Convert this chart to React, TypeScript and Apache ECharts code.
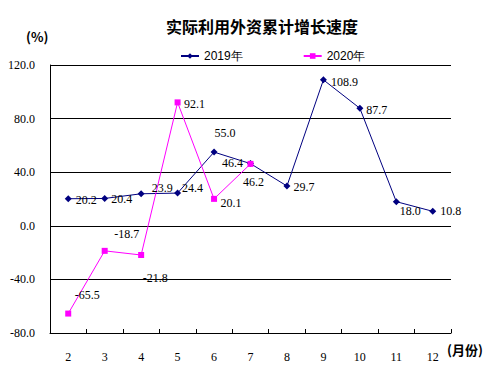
import React, { useEffect, useRef } from "react";
import * as echarts from "echarts";

const months = ["2", "3", "4", "5", "6", "7", "8", "9", "10", "11", "12"];
const values2019 = [20.2, 20.4, 23.9, 24.4, 55.0, 46.4, 29.7, 108.9, 87.7, 18.0, 10.8];
const values2020: (number | null)[] = [-65.5, -18.7, -21.8, 92.1, 20.1, 46.2, null, null, null, null, null];
const seriesNames = ["2019年", "2020年"];

// label offsets (pixels) relative to each point
const offsets2019 = [[18, 1], [17, 1], [21, -6], [15, -5], [11, -19], [-18, -1], [17, 1], [21, 2], [17, 2], [14, 9], [18, 0]];
const offsets2020 = [[19, -19], [22, -17], [14, 23], [17, 2], [17, 4], [3, 18]];

const labelFont = "Liberation Serif";

function buildData(vals: (number | null)[], offs: number[][]) {
  return vals.map((v, i) =>
    v === null
      ? null
      : {
          value: v,
          label: {
            show: true,
            position: "inside",
            offset: offs[i] || [0, 0],
            formatter: (p: any) => Number(p.value).toFixed(1),
            color: "#000",
            fontFamily: labelFont,
            fontSize: 12,
          },
        }
  );
}

export default function App() {
  const ref = useRef<HTMLDivElement>(null);
  useEffect(() => {
    if (!ref.current) return;
    const chart = echarts.init(ref.current, null, { renderer: "svg" });
    chart.setOption({
      animation: false,
      backgroundColor: "#fff",
      title: {
        text: "实际利用外资累计增长速度",
        left: 257,
        textAlign: "center",
        top: 13,
        textStyle: { fontFamily: "Noto Sans CJK SC", fontSize: 16, fontWeight: "bold", color: "#000" },
      },
      legend: {
        data: seriesNames,
        top: 45,
        left: 175,
        itemGap: 60,
        itemWidth: 18,
        itemHeight: 7,
        textStyle: { fontFamily: "Liberation Sans", fontSize: 12, color: "#000" },
      },
      graphic: [
        {
          type: "text",
          left: 26,
          top: 30,
          style: { text: "(%)", fontFamily: "Noto Sans CJK SC", fontSize: 13, fontWeight: "bold", fill: "#000" },
        },
        {
          type: "text",
          left: 447,
          top: 343,
          style: { text: "(月份)", fontFamily: "Noto Sans CJK SC", fontSize: 13, fontWeight: "bold", fill: "#000" },
        },
      ],
      grid: { left: 50, right: 42, top: 65, bottom: 36 },
      xAxis: {
        type: "category",
        data: months,
        boundaryGap: true,
        axisLine: { show: true, onZero: false, lineStyle: { color: "#000", width: 1 } },
        axisTick: { show: true, inside: true, length: 4, lineStyle: { color: "#000" } },
        axisLabel: { color: "#000", fontFamily: labelFont, fontSize: 12, margin: 18 },
        splitLine: { show: false },
      },
      yAxis: {
        type: "value",
        min: -80,
        max: 120,
        interval: 40,
        axisLine: { show: true, lineStyle: { color: "#000", width: 1 } },
        axisTick: { show: false },
        axisLabel: {
          color: "#000",
          fontFamily: labelFont,
          fontSize: 12,
          margin: 15,
          formatter: (v: number) => v.toFixed(1),
        },
        splitLine: { show: true, lineStyle: { color: "#000", width: 1 } },
      },
      series: [
        {
          name: seriesNames[0],
          type: "line",
          data: buildData(values2019, offsets2019),
          symbol: "diamond",
          symbolSize: 7,
          itemStyle: { color: "#000080" },
          lineStyle: { color: "#000080", width: 1 },
        },
        {
          name: seriesNames[1],
          type: "line",
          data: buildData(values2020, offsets2020),
          symbol: "rect",
          symbolSize: 6,
          itemStyle: { color: "#FF00FF" },
          lineStyle: { color: "#FF00FF", width: 1 },
        },
      ],
    });
    return () => chart.dispose();
  }, []);
  return <div ref={ref} style={{ position: "absolute", left: 0, top: 0, width: 493, height: 369 }} />;
}
